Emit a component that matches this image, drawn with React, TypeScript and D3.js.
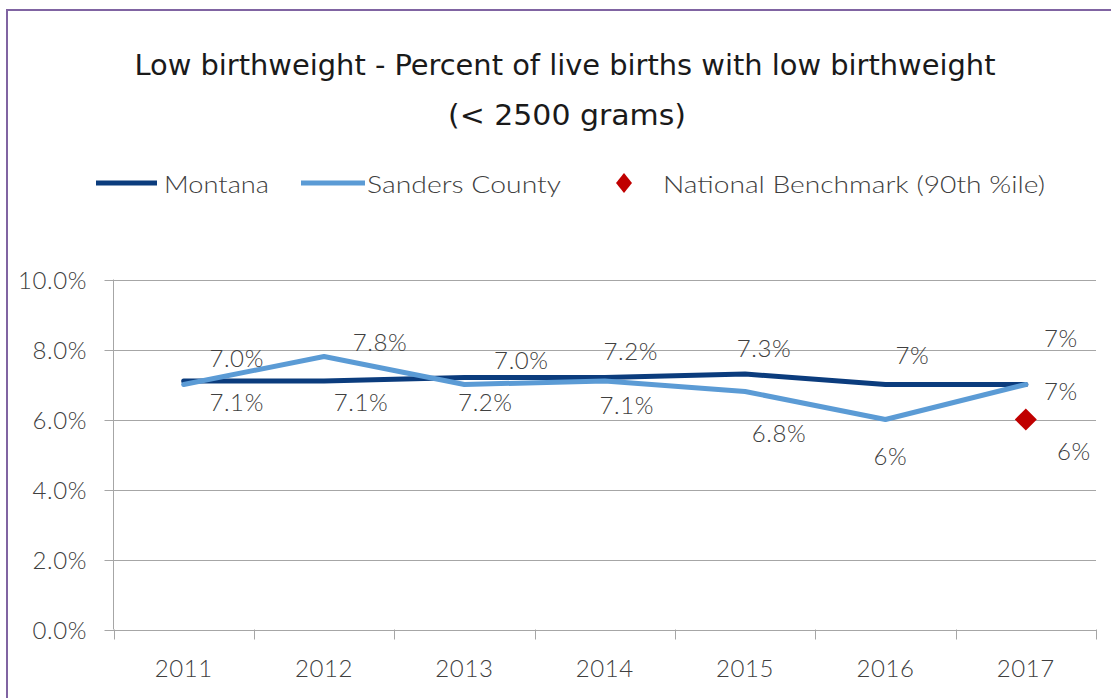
import React from "react";
import * as d3 from "d3";

const years = ["2011", "2012", "2013", "2014", "2015", "2016", "2017"];
const montana = [7.1, 7.1, 7.2, 7.2, 7.3, 7.0, 7.0];
const sanders = [7.0, 7.8, 7.0, 7.1, 6.8, 6.0, 7.0];
const benchmarkYear = "2017";
const benchmarkValue = 6.0;
const labelDecimals = [1, 1, 1, 1, 1, 0, 0];
const yTicks = [0, 2, 4, 6, 8, 10];

// label placement (offsets of label centres from their points)
const montanaDx = [53, 37, 21, 26, 19, 27, 35];
const montanaDy = [20, 20, 24, -27, -27, -30, -47];
const sandersDx = [53, 56, 57, 22, 34, 5, 35];
const sandersDy = [-27, -15, -25, 23, 41, 36, 6];

const W = 1111;
const H = 698;
const left = 113.5;
const right = 1096;
const top = 279.5;
const bottom = 629.5;

const textColor = "#404040";
const gridColor = "#A6A6A6";
const montanaColor = "#0B3C7D";
const sandersColor = "#5B9BD5";
const benchColor = "#C00000";
const font = "Lato, 'Open Sans', sans-serif";
const labelSize = 24;
const labelWeight = 300;
const labelSpacing = 0.6;

export default function App() {
  const x = d3.scaleBand<string>().domain(years).range([left, right]);
  const y = d3.scaleLinear().domain([0, 10]).range([bottom, top]);
  const cx = (yr: string) => (x(yr) as number) + x.bandwidth() / 2;
  const fmt = (v: number, i: number) => d3.format(`.${labelDecimals[i]}f`)(v) + "%";
  const line = d3
    .line<number>()
    .x((_, i) => cx(years[i]))
    .y((d) => y(d));

  const diamond = (px: number, py: number, rx: number, ry: number) =>
    `M${px},${py - ry}L${px + rx},${py}L${px},${py + ry}L${px - rx},${py}Z`;

  const boundaries = years.map((yr) => x(yr) as number).concat([right]);

  const labelProps = {
    textAnchor: "middle" as const,
    dominantBaseline: "central" as const,
    fontSize: labelSize,
    fontWeight: labelWeight,
    letterSpacing: labelSpacing,
    fill: textColor,
  };

  return (
    <svg
      width={W}
      height={H}
      style={{ position: "absolute", left: 0, top: 0, background: "#fff" }}
      fontFamily={font}
    >
      <rect x={0} y={0} width={W} height={H} fill="#fff" />
      {/* frame */}
      <rect x={7} y={10} width={W + 20} height={H + 20} fill="none" stroke="#8064A2" strokeWidth={2} />

      {/* title */}
      <text
        x={565}
        y={75}
        textAnchor="middle"
        fontSize={29}
        fill="#1a1a1a"
        fontWeight={400}
        fontFamily="'Liberation Sans Narrow', 'DejaVu Sans Condensed', Lato, sans-serif"
        textLength={861}
        lengthAdjust="spacingAndGlyphs"
      >
        Low birthweight - Percent of live births with low birthweight
      </text>
      <text
        x={567}
        y={125}
        textAnchor="middle"
        fontSize={29}
        fill="#1a1a1a"
        fontFamily="'Liberation Sans Narrow', 'DejaVu Sans Condensed', Lato, sans-serif"
        textLength={238}
        lengthAdjust="spacingAndGlyphs"
      >
        (&lt; 2500 grams)
      </text>

      {/* legend */}
      <line x1={96} x2={157} y1={183} y2={183} stroke={montanaColor} strokeWidth={5} />
      <text x={164} y={183} dominantBaseline="central" fontSize={24} fontWeight={labelWeight} fill={textColor} textLength={105} lengthAdjust="spacingAndGlyphs">
        Montana
      </text>
      <line x1={301} x2={365} y1={183} y2={183} stroke={sandersColor} strokeWidth={5} />
      <text x={367} y={183} dominantBaseline="central" fontSize={24} fontWeight={labelWeight} fill={textColor} textLength={194} lengthAdjust="spacingAndGlyphs">
        Sanders County
      </text>
      <path d={diamond(624, 183, 8, 10)} fill={benchColor} />
      <text x={663} y={183} dominantBaseline="central" fontSize={24} fontWeight={labelWeight} fill={textColor} textLength={382} lengthAdjust="spacingAndGlyphs">
        National Benchmark (90th %ile)
      </text>

      {/* gridlines and y axis */}
      {yTicks.map((t) => (
        <g key={t}>
          <line x1={left - 9} x2={right} y1={Math.round(y(t)) + 0.5} y2={Math.round(y(t)) + 0.5} stroke={gridColor} strokeWidth={1} />
          <text x={87} y={y(t)} {...labelProps} textAnchor="end">
            {d3.format(".1f")(t) + "%"}
          </text>
        </g>
      ))}
      <line x1={left} x2={left} y1={top} y2={bottom} stroke={gridColor} strokeWidth={1} />
      {boundaries.map((bx, i) => (
        <line key={i} x1={Math.round(bx) + 0.5} x2={Math.round(bx) + 0.5} y1={bottom} y2={bottom + 10} stroke={gridColor} strokeWidth={1} />
      ))}
      {years.map((yr) => (
        <text key={yr} x={cx(yr)} y={667} {...labelProps}>
          {yr}
        </text>
      ))}

      {/* series */}
      <path d={line(montana) || ""} fill="none" stroke={montanaColor} strokeWidth={5} strokeLinejoin="round" strokeLinecap="round" />
      <path d={line(sanders) || ""} fill="none" stroke={sandersColor} strokeWidth={5} strokeLinejoin="round" strokeLinecap="round" />
      <path d={diamond(cx(benchmarkYear), y(benchmarkValue), 11, 11)} fill={benchColor} />

      {/* data labels */}
      {montana.map((v, i) => (
        <text key={"m" + i} x={cx(years[i]) + montanaDx[i]} y={y(v) + montanaDy[i]} {...labelProps}>
          {fmt(v, i)}
        </text>
      ))}
      {sanders.map((v, i) => (
        <text key={"s" + i} x={cx(years[i]) + sandersDx[i]} y={y(v) + sandersDy[i]} {...labelProps}>
          {fmt(v, i)}
        </text>
      ))}
      <text x={cx(benchmarkYear) + 48} y={y(benchmarkValue) + 31} {...labelProps}>
        {d3.format(".0f")(benchmarkValue) + "%"}
      </text>
    </svg>
  );
}
